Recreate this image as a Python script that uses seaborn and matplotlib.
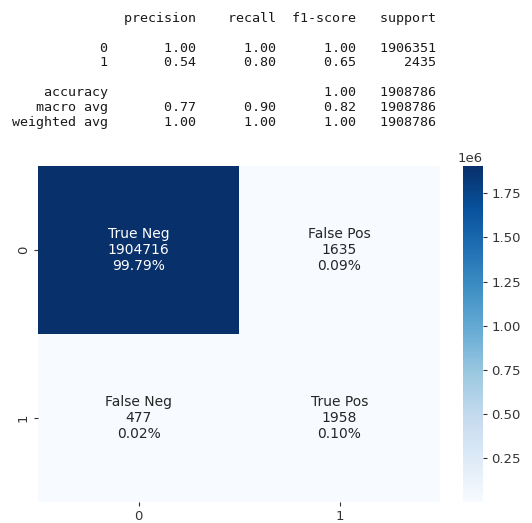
import numpy as np
import pandas as pd
import matplotlib
matplotlib.use("Agg")
import matplotlib.pyplot as plt
import seaborn as sns

# Confusion matrix counts (rows: actual, cols: predicted)
class_labels = ["0", "1"]
cell_names = ["True Neg", "False Pos", "False Neg", "True Pos"]
cell_counts = [1904716, 1635, 477, 1958]

# Classification report values
report_rows = ["0", "1"]
precision = [1.00, 0.54]
recall = [1.00, 0.80]
f1_score = [1.00, 0.65]
support = [1906351, 2435]
accuracy = 1.00
macro_avg = [0.77, 0.90, 0.82]
weighted_avg = [1.00, 1.00, 1.00]
total_support = 1908786

W, H = 532, 523
fig = plt.figure(figsize=(W / 100, H / 100), dpi=100)

# ---- text report ----
width = 12
head_fmt = "{:>{w}s} " + " {:>9}" * 4
row_fmt = "{:>{w}s} " + " {:>9.2f}" * 3 + " {:>9}"
lines = [head_fmt.format("", "precision", "recall", "f1-score", "support", w=width), ""]
for name, p, r, f, s in zip(report_rows, precision, recall, f1_score, support):
    lines.append(row_fmt.format(name, p, r, f, s, w=width))
lines.append("")
lines.append(("{:>{w}s} " + " {:>9}" * 2 + " {:>9.2f}" + " {:>9}").format(
    "accuracy", "", "", accuracy, total_support, w=width))
lines.append(row_fmt.format("macro avg", *macro_avg, total_support, w=width))
lines.append(row_fmt.format("weighted avg", *weighted_avg, total_support, w=width))

y0 = 18.5
for i, line in enumerate(lines):
    fig.text(12 / W, 1 - (y0 + 14.8 * i) / H, line, family="DejaVu Sans Mono",
             fontsize=9.6, color="#1a1a1a", ha="left", va="center")

# ---- heatmap ----
cm = np.array(cell_counts).reshape(2, 2)
df = pd.DataFrame(cm, index=class_labels, columns=class_labels)
pct = cm.flatten() / cm.sum()
annot = np.array([f"{n}\n{c}\n{p:.2%}" for n, c, p in zip(cell_names, cell_counts, pct)]).reshape(2, 2)

ax = fig.add_axes([38 / W, (H - 502) / H, 402 / W, 336 / H])
cax = fig.add_axes([463 / W, (H - 502) / H, 20 / W, 336 / H])
sns.heatmap(df, annot=annot, fmt="", cmap="Blues", ax=ax, cbar_ax=cax,
            annot_kws={"fontsize": 10})
ax.tick_params(labelsize=9.5, length=3, pad=3, colors="#333333")
cax.tick_params(labelsize=9.5, length=3, pad=3, colors="#333333")
cax.yaxis.get_offset_text().set_fontsize(9.5)
cax.yaxis.get_offset_text().set_color("#333333")

fig.savefig("out.png", dpi=100)
